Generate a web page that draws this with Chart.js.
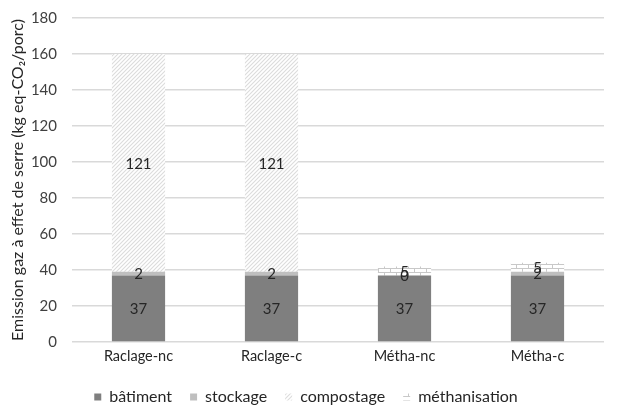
<!DOCTYPE html>
<html>
<head>
<meta charset="utf-8">
<script src="https://cdn.jsdelivr.net/npm/chart.js@4"></script>
<style>
  html, body { margin: 0; padding: 0; background: #fff; }
  #wrap { width: 617px; height: 405px; }
</style>
</head>
<body>
<div id="wrap"><canvas id="chart" width="617" height="405"></canvas></div>
<script>
// donnees
const categories = ['Raclage-nc', 'Raclage-c', 'Métha-nc', 'Métha-c'];
const batiment = [37, 37, 37, 37];
const stockage = [2, 2, 0, 2];
const compostage = [121, 121, null, null];
const methanisation = [null, null, 5, 5];
const yTicks = [0, 20, 40, 60, 80, 100, 120, 140, 160, 180];

// motif hachures diagonales (compostage)
function hatchPattern() {
    const c = document.createElement('canvas');
    c.width = 4; c.height = 4;
    const g = c.getContext('2d');
    g.fillStyle = '#fff';
    g.fillRect(0, 0, 4, 4);
    g.strokeStyle = '#dcdcdc';
    g.lineWidth = 1.1;
    g.beginPath();
    g.moveTo(-1, 5); g.lineTo(5, -1);
    g.moveTo(-1, 1); g.lineTo(1, -1);
    g.moveTo(3, 5); g.lineTo(5, 3);
    g.stroke();
    return g.createPattern(c, 'repeat');
}

// motif briques (methanisation)
function brickPattern() {
    const c = document.createElement('canvas');
    c.width = 12; c.height = 8;
    const g = c.getContext('2d');
    g.fillStyle = '#fff';
    g.fillRect(0, 0, 12, 8);
    g.strokeStyle = '#c8c8c8';
    g.lineWidth = 1;
    g.beginPath();
    g.moveTo(0, 0.5); g.lineTo(12, 0.5);
    g.moveTo(0, 4.5); g.lineTo(12, 4.5);
    g.moveTo(0.5, 0); g.lineTo(0.5, 4);
    g.moveTo(6.5, 4); g.lineTo(6.5, 8);
    g.stroke();
    return g.createPattern(c, 'repeat');
}

// etiquettes de valeurs au centre des segments
const valueLabels = {
    id: 'valueLabels',
    afterDatasetsDraw(chart) {
        const ctx = chart.ctx;
        ctx.save();
        ctx.font = '15px Lato, "Open Sans", sans-serif';
        ctx.fillStyle = '#262626';
        ctx.textAlign = 'center';
        ctx.textBaseline = 'middle';
        chart.data.datasets.forEach((ds, i) => {
            const meta = chart.getDatasetMeta(i);
            meta.data.forEach((bar, j) => {
                const v = ds.data[j];
                if (v === null || v === undefined) return;
                const p = bar.getProps(['x', 'y', 'base'], true);
                ctx.fillText(String(v), p.x, (p.y + p.base) / 2 + 1);
            });
        });
        ctx.restore();
    }
};

const family = 'Lato, "Open Sans", sans-serif';

new Chart(document.getElementById('chart'), {
    type: 'bar',
    data: {
        labels: categories,
        datasets: [
            { label: 'bâtiment', data: batiment, backgroundColor: '#7f7f7f' },
            { label: 'stockage', data: stockage, backgroundColor: '#bfbfbf' },
            { label: 'compostage', data: compostage, backgroundColor: hatchPattern() },
            { label: 'méthanisation', data: methanisation, backgroundColor: brickPattern() }
        ]
    },
    options: {
        responsive: false,
        animation: false,
        layout: { padding: { top: 18, right: 13, left: 8, bottom: -10 } },
        datasets: {
            bar: { barPercentage: 0.4, categoryPercentage: 1, borderWidth: 0 }
        },
        plugins: {
            tooltip: { enabled: false },
            legend: {
                position: 'bottom',
                labels: {
                    font: { family: family, size: 16 },
                    color: '#262626',
                    boxWidth: 7,
                    boxHeight: 7,
                    padding: 18
                }
            }
        },
        scales: {
            x: {
                stacked: true,
                afterFit: scale => { scale.height = 29; },
                grid: { display: false, drawTicks: false, tickLength: 0 },
                border: { display: false },
                ticks: { font: { family: family, size: 14.5 }, color: '#262626', padding: 6 }
            },
            y: {
                stacked: true,
                min: 0,
                max: 180,
                afterBuildTicks: scale => { scale.ticks = yTicks.map(v => ({ value: v })); },
                afterFit: scale => {
                    scale.width = 64;
                    scale.paddingTop = 0;
                    scale.paddingBottom = 0;
                },
                grid: { color: '#d9d9d9', lineWidth: 1.5, drawTicks: false },
                border: { display: false },
                ticks: { font: { family: family, size: 15 }, color: '#404040', padding: 15 },
                title: {
                    display: true,
                    text: 'Emission gaz à effet de serre (kg eq-CO₂/porc)',
                    font: { family: family, size: 16 },
                    color: '#262626',
                    padding: { top: 0, bottom: 0 }
                }
            }
        }
    },
    plugins: [valueLabels]
});
</script>
</body>
</html>
